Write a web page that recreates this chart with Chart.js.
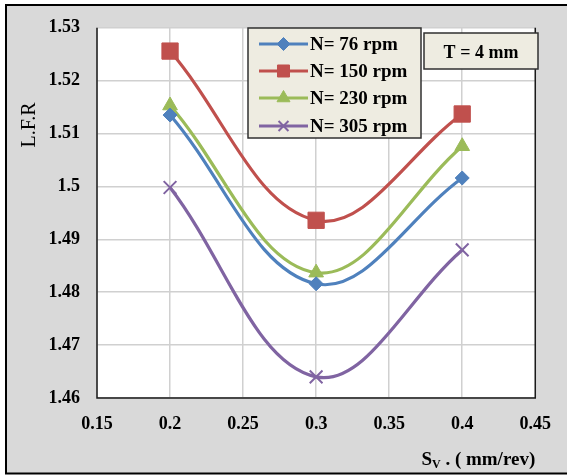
<!DOCTYPE html>
<html>
<head>
<meta charset="utf-8">
<script src="https://cdn.jsdelivr.net/npm/chart.js@4.4.0/dist/chart.umd.min.js"></script>
<style>
  html, body { margin: 0; padding: 0; background: #ffffff; }
  #wrap { position: relative; width: 567px; height: 475px; }
  canvas { display: block; }
</style>
</head>
<body>
<div id="wrap"><canvas id="c" width="567" height="475"></canvas></div>
<script>
// ---- Data ----
const feedRates = [0.2, 0.3, 0.4];               // S_V (mm/rev)
const lfrN76  = [1.5135, 1.4816, 1.5016];
const lfrN150 = [1.5256, 1.4936, 1.5137];
const lfrN230 = [1.5153, 1.4837, 1.5076];
const lfrN305 = [1.4998, 1.4640, 1.4880];
const seriesNames = ['N= 76 rpm', 'N= 150 rpm', 'N= 230 rpm', 'N= 305 rpm'];
const xTickLabels = ['0.15', '0.2', '0.25', '0.3', '0.35', '0.4', '0.45'];
const yTickLabels = ['1.46', '1.47', '1.48', '1.49', '1.5', '1.51', '1.52', '1.53'];
const noteText = 'T = 4 mm';
const yTitle = 'L.F.R';
const xTitleMain = 'S';
const xTitleSub = 'V';
const xTitleRest = ' . ( mm/rev)';

const colors = ['#4f81bd', '#c0504d', '#9bbb59', '#8064a2'];
const styles = ['rectRot', 'rect', 'triangle', 'crossRot'];
const radii = [7, 11.5, 8.5, 9];
const legendRadii = [6.5, 8.5, 7.5, 7];
const SERIF = '"Liberation Serif", "Times New Roman", serif';

function pts(vals) { return feedRates.map((x, i) => ({ x: x, y: vals[i] })); }
const allVals = [lfrN76, lfrN150, lfrN230, lfrN305];

const datasets = allVals.map((vals, i) => ({
  label: seriesNames[i],
  data: pts(vals),
  borderColor: colors[i],
  backgroundColor: colors[i],
  borderWidth: 3.2,
  tension: 0.38,
  pointStyle: styles[i],
  pointRadius: radii[i],
  pointBorderWidth: i === 3 ? 2 : 1,
  pointBorderColor: colors[i],
  pointBackgroundColor: colors[i],
  fill: false
}));

function drawMarker(ctx, style, x, y, r, color, bw) {
  ctx.save();
  ctx.fillStyle = color; ctx.strokeStyle = color; ctx.lineWidth = bw;
  ctx.beginPath();
  if (style === 'rectRot') {
    ctx.moveTo(x, y - r); ctx.lineTo(x + r, y); ctx.lineTo(x, y + r); ctx.lineTo(x - r, y); ctx.closePath();
    ctx.fill(); ctx.stroke();
  } else if (style === 'rect') {
    const s = r * Math.SQRT1_2;
    ctx.rect(x - s, y - s, 2 * s, 2 * s); ctx.fill(); ctx.stroke();
  } else if (style === 'triangle') {
    for (let k = 0; k < 3; k++) {
      const a = k * 2 * Math.PI / 3;
      const px = x + Math.sin(a) * r, py = y - Math.cos(a) * r;
      if (k === 0) ctx.moveTo(px, py); else ctx.lineTo(px, py);
    }
    ctx.closePath(); ctx.fill(); ctx.stroke();
  } else {
    const s = r * Math.SQRT1_2;
    ctx.moveTo(x - s, y - s); ctx.lineTo(x + s, y + s);
    ctx.moveTo(x + s, y - s); ctx.lineTo(x - s, y + s);
    ctx.stroke();
  }
  ctx.restore();
}

const decor = {
  id: 'decor',
  beforeDraw(chart) {
    const ctx = chart.ctx, a = chart.chartArea;
    ctx.save();
    ctx.fillStyle = '#ffffff';
    ctx.fillRect(0, 0, chart.width, chart.height);
    ctx.fillStyle = '#d9d9d9';
    ctx.fillRect(6, 5, 570, 468);
    ctx.strokeStyle = '#000000';
    ctx.lineWidth = 2;
    ctx.strokeRect(6, 5, 570, 468.5);
    ctx.fillStyle = '#ffffff';
    ctx.fillRect(a.left, a.top, a.right - a.left, a.bottom - a.top);
    ctx.restore();
  },
  beforeDatasetsDraw(chart) {
    const ctx = chart.ctx, a = chart.chartArea;
    ctx.save();
    ctx.strokeStyle = '#1a1a1a';
    ctx.lineWidth = 1.5;
    ctx.beginPath();
    ctx.moveTo(a.left, a.top); ctx.lineTo(a.left, a.bottom);
    ctx.lineTo(a.right, a.bottom); ctx.lineTo(a.right, a.top);
    ctx.stroke();
    ctx.restore();
  },
  afterDraw(chart) {
    const ctx = chart.ctx;
    ctx.save();
    // Legend box
    ctx.fillStyle = '#eeece1';
    ctx.fillRect(248, 28, 173, 110);
    ctx.strokeStyle = '#303030';
    ctx.lineWidth = 1.5;
    ctx.strokeRect(248, 28, 173, 110);
    const rows = [44, 71, 98, 126];
    ctx.font = 'bold 19px ' + SERIF;
    ctx.textAlign = 'left';
    ctx.textBaseline = 'middle';
    for (let i = 0; i < 4; i++) {
      const y = rows[i];
      ctx.strokeStyle = colors[i];
      ctx.lineWidth = 3;
      ctx.beginPath(); ctx.moveTo(259, y); ctx.lineTo(308, y); ctx.stroke();
      drawMarker(ctx, styles[i], 283.5, y, legendRadii[i], colors[i], i === 3 ? 2 : 1);
      ctx.fillStyle = '#000000';
      ctx.fillText(seriesNames[i], 310, y + 1);
    }
    // Note box
    ctx.fillStyle = '#eeece1';
    ctx.fillRect(424, 33, 114, 36);
    ctx.strokeStyle = '#303030';
    ctx.lineWidth = 1.5;
    ctx.strokeRect(424, 33, 114, 36);
    ctx.fillStyle = '#000000';
    ctx.font = 'bold 18px ' + SERIF;
    ctx.textAlign = 'center';
    ctx.fillText(noteText, 481, 53);
    // Y title
    ctx.save();
    ctx.translate(29, 125);
    ctx.rotate(-Math.PI / 2);
    ctx.font = '20px ' + SERIF;
    ctx.textAlign = 'center';
    ctx.textBaseline = 'middle';
    ctx.fillText(yTitle, 0, 1);
    ctx.restore();
    // X title (right aligned at plot right)
    ctx.textBaseline = 'alphabetic';
    ctx.textAlign = 'left';
    const fMain = 'bold 19px ' + SERIF, fSub = 'bold 12px ' + SERIF;
    ctx.font = fMain; const wS = ctx.measureText(xTitleMain).width;
    const wR = ctx.measureText(xTitleRest).width;
    ctx.font = fSub; const wV = ctx.measureText(xTitleSub).width;
    const total = wS + wV + wR;
    let x0 = chart.chartArea.right - total;
    const base = 465;
    ctx.font = fMain; ctx.fillText(xTitleMain, x0, base);
    ctx.font = fSub; ctx.fillText(xTitleSub, x0 + wS, base + 3);
    ctx.font = fMain; ctx.fillText(xTitleRest, x0 + wS + wV, base);
    ctx.restore();
  }
};

new Chart(document.getElementById('c'), {
  type: 'line',
  data: { datasets: datasets },
  options: {
    responsive: false,
    animation: false,
    devicePixelRatio: 1,
    layout: { padding: { left: 0, top: 25, right: 25, bottom: 0 } },
    plugins: { legend: { display: false }, tooltip: { enabled: false } },
    scales: {
      x: {
        type: 'linear',
        min: 0.15, max: 0.45,
        afterFit(s) { s.height = 77; },
        ticks: {
          stepSize: 0.05,
          padding: 16,
          color: '#000000',
          font: { family: SERIF, size: 18, weight: 'bold' },
          callback: (v, i) => xTickLabels[i]
        },
        grid: { color: '#d0d0d0', lineWidth: 1.5, drawTicks: false },
        border: { display: false }
      },
      y: {
        type: 'linear',
        min: 1.46, max: 1.53,
        afterFit(s) { s.width = 97; },
        ticks: {
          stepSize: 0.01,
          padding: 17,
          color: '#000000',
          font: { family: SERIF, size: 18, weight: 'bold' },
          callback: (v, i) => yTickLabels[i]
        },
        grid: { color: '#d0d0d0', lineWidth: 1.5, drawTicks: false },
        border: { display: false }
      }
    }
  },
  plugins: [decor]
});
</script>
</body>
</html>
